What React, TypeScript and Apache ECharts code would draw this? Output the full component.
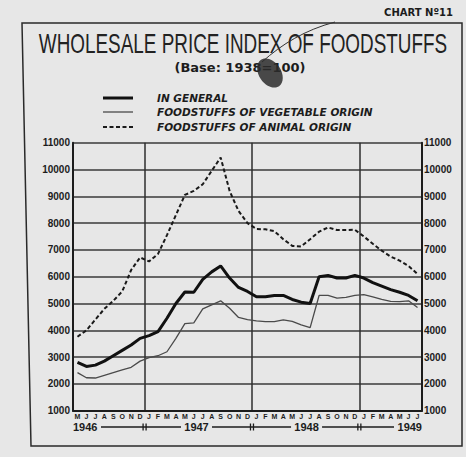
import React, { useEffect, useRef } from "react";
import * as echarts from "echarts";

// ---- data ----
const months = [
  "M", "J", "J", "A", "S", "O", "N", "D",
  "J", "F", "M", "A", "M", "J", "J", "A", "S", "O", "N", "D",
  "J", "F", "M", "A", "M", "J", "J", "A", "S", "O", "N", "D",
  "J", "F", "M", "A", "M", "J", "J",
];
const yearLabels = ["1946", "1947", "1948", "1949"];
const yearLabelAt = [-0.5, 13.3, 25.6, 38.5]; // month-index positions
const yearBreaks = [8, 20, 32]; // first month of each new year
const general = [
  2800, 2650, 2700, 2850, 3050, 3250, 3450, 3700,
  3800, 3950, 4450, 5000, 5430, 5420, 5900, 6180, 6400, 5950, 5600, 5450,
  5250, 5250, 5300, 5300, 5150, 5050, 5000, 6000, 6050, 5950, 5950, 6050,
  5950, 5780, 5650, 5520, 5420, 5300, 5100,
];
const vegetable = [
  2420, 2230, 2220, 2320, 2420, 2520, 2620, 2850,
  2980, 3050, 3200, 3700, 4250, 4280, 4800, 4950, 5100, 4820, 4480, 4400,
  4350, 4320, 4320, 4390, 4330, 4200, 4100, 5300, 5300, 5200, 5230, 5300,
  5330, 5250, 5150, 5080, 5070, 5100, 4850,
];
const animal = [
  3760, 4000, 4400, 4800, 5100, 5450, 6250, 6720,
  6570, 6850, 7550, 8300, 9050, 9200, 9450, 9950, 10450, 9200, 8450, 8000,
  7780, 7770, 7700, 7400, 7150, 7130, 7400, 7680, 7840, 7740, 7740, 7750,
  7500, 7230, 6970, 6750, 6600, 6400, 6100,
];
const yMin = 1000;
const yMax = 11000;
const yStep = 1000;
const seriesNames = [
  "IN GENERAL",
  "FOODSTUFFS OF VEGETABLE ORIGIN",
  "FOODSTUFFS OF ANIMAL ORIGIN",
];
const titleText = "WHOLESALE PRICE INDEX OF FOODSTUFFS";
const subtitleText = "(Base: 1938=100)";
const chartNo = "CHART Nº11";

const INK = "#1c1c1c";
const PAPER = "#e7e7e7";
const styles = [
  { color: "#111", width: 3, type: "solid" as any },
  { color: "#4a4a4a", width: 1.3, type: "solid" as any },
  { color: "#1a1a1a", width: 2, type: [4, 2.5] as any },
];

export default function App() {
  const ref = useRef<HTMLDivElement>(null);
  useEffect(() => {
    if (!ref.current) return;
    const chart = echarts.init(ref.current, undefined, { renderer: "svg" });
    const labelFont = {
      fontFamily: "Liberation Sans",
      fontWeight: "bold" as any,
      fontSize: 10,
      color: INK,
      formatter: (v: number) => String(v),
    };
    const yAxisBase = {
      type: "value" as const,
      min: yMin,
      max: yMax,
      interval: yStep,
      axisTick: { show: false },
      axisLine: { show: true, lineStyle: { color: INK, width: 2 } },
    };
    const option: any = {
      animation: false,
      backgroundColor: PAPER,
      grid: {
        left: 73,
        right: 44,
        top: 142.7,
        bottom: 46.3,
        containLabel: false,
        outerBoundsMode: "none",
      },
      xAxis: {
        type: "category",
        data: months,
        boundaryGap: true,
        axisLine: { show: true, lineStyle: { color: INK, width: 2 } },
        axisTick: { show: false },
        axisLabel: {
          interval: 0,
          fontSize: 7,
          fontWeight: "bold",
          fontFamily: "Liberation Sans",
          color: INK,
          margin: 2,
        },
        splitLine: {
          show: true,
          interval: (i: number) => yearBreaks.includes(i),
          lineStyle: { color: "#2e2e2e", width: 1.5 },
        },
      },
      yAxis: [
        {
          ...yAxisBase,
          position: "left",
          axisLabel: { ...labelFont, margin: 3 },
          splitLine: { show: true, lineStyle: { color: "#3a3a3a", width: 1.5 } },
        },
        {
          ...yAxisBase,
          position: "right",
          axisLabel: { ...labelFont, margin: 2 },
          splitLine: { show: false },
        },
      ],
      series: [general, vegetable, animal].map((d, k) => ({
        name: seriesNames[k],
        type: "line",
        data: d,
        symbol: "none",
        smooth: false,
        lineStyle: styles[k],
        z: 3 - k,
      })),
    };
    chart.setOption(option);

    // positions from the library's scale
    const c0 = chart.convertToPixel({ xAxisIndex: 0 }, 0) as number;
    const c1 = chart.convertToPixel({ xAxisIndex: 0 }, 1) as number;
    const pos = (k: number) => c0 + k * (c1 - c0);
    const yearY = 427;
    const yearW = 25;
    const yearAlign = ["left", "center", "center", "right"];
    const yearEls: any[] = [];
    const extents: [number, number][] = [];
    yearLabels.forEach((t, i) => {
      const x = pos(yearLabelAt[i]);
      const a = yearAlign[i];
      yearEls.push({
        type: "text",
        x,
        y: yearY,
        style: {
          text: t,
          fill: INK,
          font: "bold 11px 'Liberation Sans'",
          align: a,
          textAlign: a,
          verticalAlign: "middle",
          textVerticalAlign: "middle",
        },
      });
      const left = a === "left" ? x : a === "center" ? x - yearW / 2 : x - yearW;
      extents.push([left, left + yearW]);
    });
    for (let i = 0; i < 3; i++) {
      yearEls.push({
        type: "line",
        shape: { x1: extents[i][1] + 3, y1: yearY, x2: extents[i + 1][0] - 3, y2: yearY },
        style: { stroke: INK, lineWidth: 1.3 },
      });
      const bx = pos(yearBreaks[i] - 0.5);
      [-1.5, 1.5].forEach((dx) =>
        yearEls.push({
          type: "line",
          shape: { x1: bx + dx, y1: yearY - 3.5, x2: bx + dx, y2: yearY + 3.5 },
          style: { stroke: INK, lineWidth: 1.3 },
        })
      );
    }

    const legendEls: any[] = [];
    const legendY = [98, 112, 127];
    seriesNames.forEach((n, k) => {
      legendEls.push({
        type: "line",
        shape: { x1: 103, y1: legendY[k], x2: 133, y2: legendY[k] },
        style: {
          stroke: styles[k].color,
          lineWidth: styles[k].width,
          lineDash: Array.isArray(styles[k].type) ? styles[k].type : null,
        },
      });
      legendEls.push({
        type: "text",
        x: 157,
        y: legendY[k],
        style: {
          text: n,
          fill: INK,
          font: "italic bold 10.5px 'DejaVu Sans'",
          verticalAlign: "middle",
          textVerticalAlign: "middle",
        },
      });
    });

    chart.setOption({
      graphic: [
        {
          type: "polygon",
          shape: { points: [[22, 23], [462, 23], [462, 446], [31, 446]] },
          style: { fill: "none", stroke: "#2a2a2a", lineWidth: 1.5 },
          z: 0,
        },
        {
          type: "text",
          x: 453,
          y: 12,
          style: {
            text: chartNo,
            fill: INK,
            font: "bold 10px 'DejaVu Sans'",
            align: "right",
            textAlign: "right",
            verticalAlign: "middle",
            textVerticalAlign: "middle",
          },
        },
        {
          type: "text",
          x: 243,
          y: 44,
          scaleX: 0.7,
          style: {
            text: titleText,
            fill: "#222",
            font: "27px 'Liberation Sans'",
            align: "center",
            textAlign: "center",
            verticalAlign: "middle",
            textVerticalAlign: "middle",
          },
        },
        {
          type: "text",
          x: 240,
          y: 67,
          style: {
            text: subtitleText,
            fill: INK,
            font: "bold 13px 'DejaVu Sans'",
            align: "center",
            textAlign: "center",
            verticalAlign: "middle",
            textVerticalAlign: "middle",
          },
        },
        {
          type: "bezierCurve",
          shape: { x1: 262, y1: 62, cpx1: 282, cpy1: 44, cpx2: 305, cpy2: 30, x2: 335, y2: 22 },
          style: { stroke: "#333", lineWidth: 1, fill: "none" },
        },
        {
          type: "ellipse",
          x: 270,
          y: 73,
          rotation: 0.6,
          shape: { cx: 0, cy: 0, rx: 11, ry: 16 },
          style: { fill: "#2b2b2b", opacity: 0.85 },
        },
        ...legendEls,
        ...yearEls,
      ],
    });
    return () => chart.dispose();
  }, []);
  return (
    <div
      ref={ref}
      style={{ position: "absolute", left: 0, top: 0, width: 466, height: 457 }}
    />
  );
}
